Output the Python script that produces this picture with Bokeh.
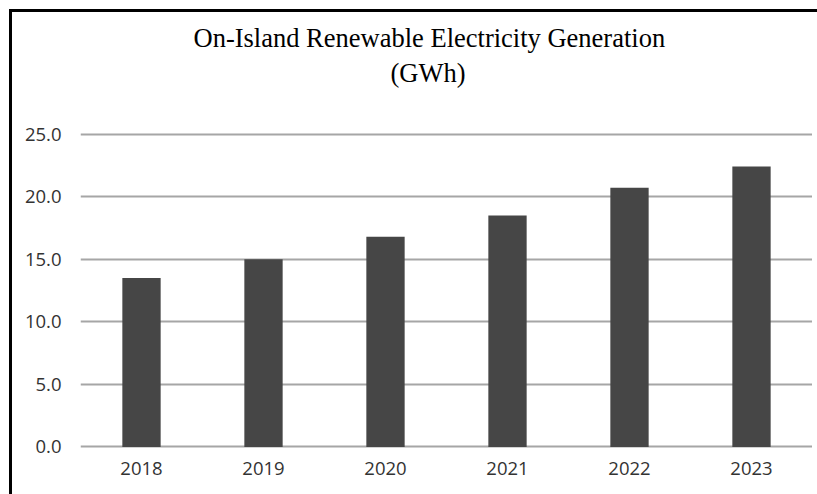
from bokeh.plotting import figure
from bokeh.models import Range1d, FixedTicker, NumeralTickFormatter, Title
from bokeh.embed import file_html
from bokeh.resources import INLINE

years = ["2018", "2019", "2020", "2021", "2022", "2023"]
gwh = [13.5, 15.0, 16.8, 18.5, 20.7, 22.4]
y_ticks = [0, 5, 10, 15, 20, 25]
title_line1 = "On-Island Renewable Electricity Generation"
title_line2 = "(GWh)"

p = figure(
    x_range=years,
    y_range=Range1d(-0.2, 25.2),
    width=812,
    height=494,
    output_backend="svg",
    toolbar_location=None,
    min_border_left=80,
    min_border_right=0,
    min_border_top=131,
    min_border_bottom=45,
)
p.title.visible = False

p.vbar(x=years, top=gwh, width=0.314, color="#464646", line_color=None)

p.outline_line_color = None
p.background_fill_color = "white"
p.border_fill_color = "white"

p.xgrid.grid_line_color = None
p.ygrid.grid_line_color = "#a6a6a6"
p.ygrid.grid_line_width = 2

p.yaxis.ticker = FixedTicker(ticks=y_ticks)
p.yaxis.formatter = NumeralTickFormatter(format="0.0")
for ax in (p.xaxis, p.yaxis):
    ax.axis_line_color = None
    ax.major_tick_line_color = None
    ax.minor_tick_line_color = None
    ax.major_tick_out = 0
    ax.major_tick_in = 0
    ax.major_label_text_font = "Open Sans"
    ax.major_label_text_font_size = "18.5px"
    ax.major_label_text_color = "#333333"
p.yaxis.major_label_standoff = 19
p.xaxis.major_label_standoff = 12

t2 = Title(text=title_line2, align="left", offset=310, standoff=87,
           text_font="Liberation Serif", text_font_size="26.5px",
           text_font_style="normal", text_color="black")
t1 = Title(text=title_line1, align="left", offset=113, standoff=-81,
           text_font="Liberation Serif", text_font_size="26.5px",
           text_font_style="normal", text_color="black")
p.add_layout(t2, "above")
p.add_layout(t1, "above")

html = file_html(p, INLINE)
frame_css = (
    "<style>body{margin:0;}"
    ".chart-border{position:absolute;left:9px;top:9px;width:808px;height:485px;"
    "border-top:3px solid black;border-left:3px solid black;box-sizing:border-box;"
    "pointer-events:none;z-index:10;}</style>"
)
html = html.replace("</head>", frame_css + "</head>", 1)
html = html.replace("</body>", '<div class="chart-border"></div></body>', 1)
open("out.html", "w").write(html)
